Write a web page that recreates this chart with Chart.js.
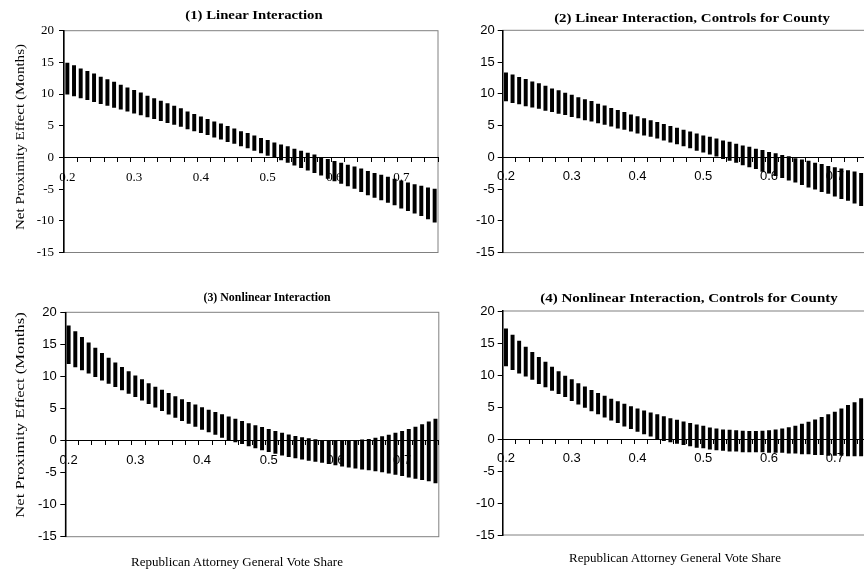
<!DOCTYPE html>
<html>
<head>
<meta charset="utf-8">
<script src="https://cdn.jsdelivr.net/npm/chart.js@4.4.1/dist/chart.umd.min.js"></script>
<style>
  html, body { margin: 0; padding: 0; background: #fff; }
  #page { position: relative; width: 864px; height: 569px; overflow: hidden; background: #fff; }
  canvas { position: absolute; }
  .t { position: absolute; white-space: nowrap; line-height: 1;
       font-family: "Liberation Serif", "Times New Roman", serif; color: #000; }
  .pt { font-weight: bold; }
</style>
</head>
<body>
<div id="page">
  <canvas id="c1" width="445" height="280" style="left:0;top:0"></canvas>
  <canvas id="c2" width="445" height="280" style="left:445px;top:0"></canvas>
  <canvas id="c3" width="445" height="289" style="left:0;top:280px"></canvas>
  <canvas id="c4" width="445" height="289" style="left:445px;top:280px"></canvas>

  <!-- the original charts were pasted with uneven scaling, so some text is stretched -->
  <div class="t pt" style="left:254px;top:15px;font-size:12.5px;transform:translate(-50%,-50%) scaleX(1.18)">(1) Linear Interaction</div>
  <div class="t pt" style="left:692px;top:16.5px;font-size:13px;transform:translate(-50%,-50%) scaleX(1.15)">(2) Linear Interaction, Controls for County</div>
  <div class="t pt" style="left:267px;top:297px;font-size:12.5px;transform:translate(-50%,-50%) scaleX(0.95)">(3) Nonlinear Interaction</div>
  <div class="t pt" style="left:689px;top:298px;font-size:12.5px;transform:translate(-50%,-50%) scaleX(1.2)">(4) Nonlinear Interaction, Controls for County</div>

  <div class="t" style="left:19px;top:137px;font-size:13px;transform:translate(-50%,-50%) rotate(-90deg) scaleX(1.16)">Net Proximity Effect (Months)</div>
  <div class="t" style="left:19px;top:415px;font-size:13px;transform:translate(-50%,-50%) rotate(-90deg) scaleX(1.28)">Net Proximity Effect (Months)</div>

  <div class="t" style="left:237px;top:561px;font-size:13px;transform:translate(-50%,-50%)">Republican Attorney General Vote Share</div>
  <div class="t" style="left:675px;top:557px;font-size:13px;transform:translate(-50%,-50%)">Republican Attorney General Vote Share</div>
</div>
<script>
// vote share categories (one bar per category)
const shares = ['0.20','0.21','0.22','0.23','0.24','0.25','0.26','0.27','0.28','0.29',
                '0.30','0.31','0.32','0.33','0.34','0.35','0.36','0.37','0.38','0.39',
                '0.40','0.41','0.42','0.43','0.44','0.45','0.46','0.47','0.48','0.49',
                '0.50','0.51','0.52','0.53','0.54','0.55','0.56','0.57','0.58','0.59',
                '0.60','0.61','0.62','0.63','0.64','0.65','0.66','0.67','0.68','0.69',
                '0.70','0.71','0.72','0.73','0.74','0.75'];

const yTicks = [-15, -10, -5, 0, 5, 10, 15, 20];

// (1) Linear Interaction
const p1High = [14.9,14.5,14.0,13.6,13.2,12.7,12.3,11.9,11.4,11.0,
                10.6,10.2,9.7,9.3,8.9,8.5,8.1,7.7,7.2,6.8,
                6.4,6.0,5.6,5.3,4.9,4.5,4.1,3.8,3.4,3.0,
                2.7,2.3,2.0,1.7,1.3,1.0,0.7,0.4,0.0,-0.3,
                -0.6,-0.9,-1.2,-1.5,-1.8,-2.2,-2.5,-2.8,-3.1,-3.4,
                -3.7,-4.0,-4.3,-4.5,-4.8,-5.0];
const p1Low  = [10.0,9.7,9.4,9.1,8.8,8.5,8.2,7.9,7.6,7.3,
                7.0,6.7,6.4,6.1,5.8,5.5,5.2,4.9,4.5,4.2,
                3.9,3.6,3.2,2.9,2.5,2.2,1.8,1.5,1.1,0.7,
                0.3,0.0,-0.4,-0.8,-1.2,-1.6,-2.0,-2.4,-2.8,-3.3,
                -3.7,-4.1,-4.5,-4.9,-5.4,-5.9,-6.3,-6.7,-7.1,-7.5,
                -8.0,-8.4,-8.8,-9.2,-9.7,-10.2];

// (2) Linear Interaction, Controls for County
const p2High = [13.3,13.0,12.6,12.3,11.9,11.6,11.2,10.8,10.5,10.1,
                9.8,9.4,9.1,8.8,8.4,8.1,7.7,7.4,7.1,6.7,
                6.4,6.1,5.8,5.5,5.2,4.9,4.6,4.3,4.0,3.7,
                3.4,3.2,2.9,2.6,2.4,2.1,1.8,1.6,1.3,1.1,
                0.8,0.6,0.3,0.1,-0.2,-0.4,-0.6,-0.9,-1.1,-1.4,
                -1.6,-1.8,-2.1,-2.3,-2.5,-2.8];
const p2Low  = [8.9,8.6,8.4,8.1,7.9,7.7,7.4,7.2,6.9,6.7,
                6.4,6.2,5.9,5.7,5.4,5.2,4.9,4.6,4.4,4.1,
                3.8,3.5,3.3,3.0,2.7,2.4,2.1,1.8,1.5,1.1,
                0.8,0.5,0.2,-0.2,-0.5,-0.8,-1.2,-1.5,-1.8,-2.2,
                -2.5,-2.9,-3.2,-3.6,-3.9,-4.3,-4.7,-5.0,-5.4,-5.7,
                -6.1,-6.5,-6.8,-7.2,-7.6,-7.9];

// (3) Nonlinear Interaction
const p3High = [17.9,17.0,16.1,15.25,14.4,13.6,12.85,12.1,11.4,10.75,
                10.1,9.5,8.9,8.35,7.85,7.35,6.85,6.4,5.95,5.55,
                5.15,4.75,4.4,4.05,3.7,3.35,3.0,2.65,2.35,2.05,
                1.75,1.45,1.15,0.9,0.65,0.45,0.3,0.15,0.05,0.0,
                -0.05,-0.05,-0.05,0.0,0.1,0.2,0.4,0.6,0.85,1.15,
                1.45,1.75,2.1,2.5,2.9,3.35];
const p3Low  = [12.0,11.5,11.0,10.5,9.95,9.4,8.9,8.4,7.9,7.35,
                6.85,6.3,5.75,5.2,4.65,4.1,3.6,3.1,2.65,2.2,
                1.75,1.35,0.95,0.5,0.1,-0.2,-0.5,-0.85,-1.15,-1.45,
                -1.75,-2.0,-2.3,-2.5,-2.7,-2.9,-3.1,-3.25,-3.4,-3.6,
                -3.8,-4.0,-4.15,-4.3,-4.45,-4.6,-4.75,-4.9,-5.1,-5.3,
                -5.5,-5.7,-5.9,-6.1,-6.3,-6.6];

// (4) Nonlinear Interaction, Controls for County
const p4High = [17.2,16.25,15.3,14.35,13.55,12.75,12.0,11.25,10.55,9.85,
                9.3,8.65,8.15,7.6,7.15,6.7,6.25,5.85,5.45,5.05,
                4.7,4.4,4.1,3.8,3.5,3.2,2.95,2.7,2.45,2.2,
                2.0,1.75,1.6,1.45,1.4,1.3,1.25,1.2,1.2,1.25,
                1.3,1.45,1.6,1.8,2.0,2.35,2.65,3.0,3.4,3.8,
                4.2,4.7,5.25,5.7,6.3,6.9];
const p4Low  = [11.4,10.85,10.3,9.8,9.3,8.65,8.15,7.6,7.1,6.6,
                6.0,5.45,4.95,4.4,3.9,3.4,2.95,2.55,2.0,1.6,
                1.2,0.8,0.45,0.05,-0.25,-0.45,-0.7,-0.9,-1.1,-1.3,
                -1.4,-1.6,-1.7,-1.8,-1.9,-1.9,-2.0,-2.0,-2.0,-2.0,
                -2.1,-2.1,-2.1,-2.2,-2.2,-2.35,-2.35,-2.45,-2.45,-2.55,
                -2.55,-2.55,-2.65,-2.65,-2.65,-2.7];

// grey box round the plot area
const frame = {
  id: 'frame',
  beforeDraw(chart) {
    const {ctx, chartArea: a} = chart;
    ctx.save();
    ctx.strokeStyle = '#808080';
    ctx.lineWidth = 1;
    ctx.strokeRect(a.left, a.top, a.right - a.left, a.bottom - a.top);
    ctx.restore();
  }
};

function makePanel(id, low, high, o) {
  const tickFont = { family: o.serif ? 'Liberation Serif' : 'Liberation Sans', size: 13 };
  return new Chart(document.getElementById(id), {
    type: 'bar',
    data: {
      labels: shares,
      datasets: [{
        data: shares.map((s, i) => [low[i], high[i]]),
        backgroundColor: '#000',
        borderWidth: 0,
        barThickness: 3.3
      }]
    },
    options: {
      responsive: false,
      animation: false,
      layout: { autoPadding: false, padding: o.pad },
      plugins: { legend: { display: false }, tooltip: { enabled: false } },
      scales: {
        x: {
          position: { y: 0 },
          offset: true,
          afterFit: s => { s.height = 0; },
          grid: {
            offset: true,
            drawOnChartArea: false,
            tickLength: 4,
            color: c => ((c.index ?? 0) % 2 === 0 ? '#000' : 'rgba(0,0,0,0)')
          },
          border: { color: '#000', width: 1 },
          ticks: {
            autoSkip: false,
            maxRotation: 0,
            padding: o.xPad,
            color: '#000',
            font: tickFont,
            callback: (v, i) => (i % 10 === 0 ? String(Number(shares[i])) : '')
          }
        },
        y: {
          min: yTicks[0],
          max: yTicks[yTicks.length - 1],
          afterFit: s => { s.width = o.yw; },
          afterBuildTicks: s => { s.ticks = yTicks.map(v => ({ value: v })); },
          grid: { drawOnChartArea: false, tickLength: 5, color: '#000' },
          border: { color: '#000', width: 1.5 },
          ticks: { padding: o.yPad, color: '#000', font: tickFont }
        }
      }
    },
    plugins: [frame]
  });
}

makePanel('c1', p1Low, p1High, { serif: true,  yw: 64,   xPad: 8.5, yPad: 5,
  pad: { left: 0, top: 30.7, right: 7, bottom: 27.5 } });
makePanel('c2', p2Low, p2High, { serif: false, yw: 57.7, xPad: 7,   yPad: 3,
  pad: { left: 0, top: 30.3, right: 19, bottom: 27.4 } });
makePanel('c3', p3Low, p3High, { serif: false, yw: 65.3, xPad: 8,   yPad: 3.5,
  pad: { left: 0, top: 32.3, right: 6.2, bottom: 32.3 } });
makePanel('c4', p4Low, p4High, { serif: false, yw: 57.7, xPad: 8,   yPad: 3,
  pad: { left: 0, top: 31, right: 19, bottom: 34 } });
</script>
</body>
</html>
